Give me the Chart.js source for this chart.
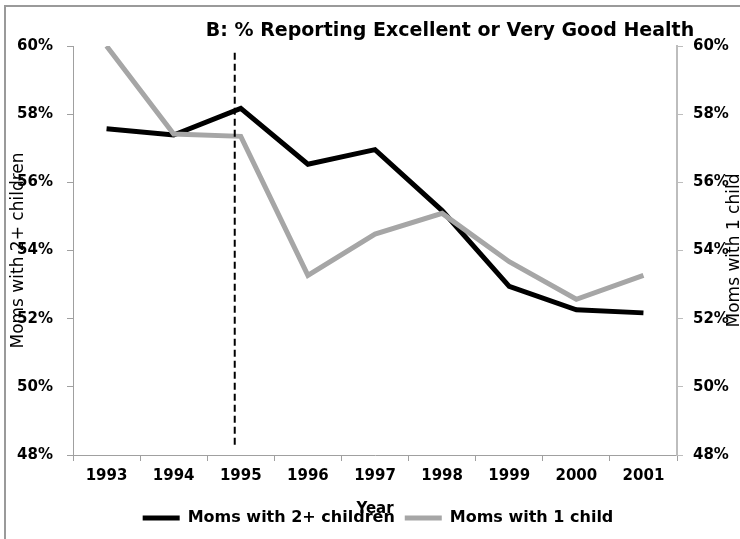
<!DOCTYPE html>
<html>
<head>
<meta charset="utf-8">
<script src="https://cdn.jsdelivr.net/npm/chart.js@4.4.1/dist/chart.umd.min.js"></script>
<style>
  html, body { margin: 0; padding: 0; background: #fff; overflow: hidden; }
  #frame { position: absolute; left: 4px; top: 5px; width: 780px; height: 580px; border: 2px solid #9a9a9a; }
  #wrap { position: absolute; left: 0; top: 0; width: 740px; height: 539px; }
</style>
</head>
<body>
<div id="frame"></div>
<div id="wrap"><canvas id="healthChart"></canvas></div>
<script>
// values (percent)
const years = ['1993', '1994', '1995', '1996', '1997', '1998', '1999', '2000', '2001'];
const momsTwoPlus = [57.57, 57.39, 58.17, 56.53, 56.96, 55.17, 52.95, 52.26, 52.17];
const momsOne = [60.0, 57.42, 57.35, 53.27, 54.48, 55.09, 53.67, 52.57, 53.27];
const yTicks = [48, 50, 52, 54, 56, 58, 60];
const policyYear = '1995';

const FONT = 'DejaVu Sans';

// dashed marker line just before the 1995 point
const policyLine = {
    id: 'policyLine',
    afterDatasetsDraw(chart) {
        const x = chart.scales.x.getPixelForValue(years.indexOf(policyYear) - 0.09);
        const y = chart.scales.y;
        const ctx = chart.ctx;
        ctx.save();
        ctx.strokeStyle = '#000';
        ctx.lineWidth = 2;
        ctx.setLineDash([7, 4]);
        ctx.beginPath();
        ctx.moveTo(x, y.getPixelForValue(59.8));
        ctx.lineTo(x, y.getPixelForValue(48.3));
        ctx.stroke();
        ctx.restore();
    }
};

// title and rotated axis titles, placed the way the original overlaps them
const extraText = {
    id: 'extraText',
    afterDraw(chart) {
        const ctx = chart.ctx;
        const area = chart.chartArea;
        const midY = (area.top + area.bottom) / 2;
        ctx.save();
        ctx.fillStyle = '#000';
        ctx.textAlign = 'center';
        ctx.textBaseline = 'middle';
        ctx.font = 'bold 19px "' + FONT + '"';
        ctx.fillText('B: % Reporting Excellent or Very Good Health', 450, 31);

        ctx.font = '17px "' + FONT + '"';
        ctx.translate(19, midY);
        ctx.rotate(-Math.PI / 2);
        ctx.fillText('Moms with 2+ children', 0, 0);
        ctx.restore();

        ctx.save();
        ctx.fillStyle = '#000';
        ctx.textAlign = 'center';
        ctx.textBaseline = 'middle';
        ctx.font = '17px "' + FONT + '"';
        ctx.translate(735, midY);
        ctx.rotate(-Math.PI / 2);
        ctx.fillText('Moms with 1 child', 0, 0);
        ctx.restore();
    }
};

const tickFont = { family: FONT, size: 15, weight: 'bold' };

const ctx = document.getElementById('healthChart').getContext('2d');
new Chart(ctx, {
    type: 'line',
    data: {
        labels: years,
        datasets: [
            { label: 'Moms with 2+ children', data: momsTwoPlus, borderColor: '#000000', backgroundColor: '#000000',
              borderWidth: 5, pointRadius: 0, tension: 0, yAxisID: 'y', order: 2 },
            { label: 'Moms with 1 child', data: momsOne, borderColor: '#a6a6a6', backgroundColor: '#a6a6a6',
              borderWidth: 5, pointRadius: 0, tension: 0, yAxisID: 'y2', order: 1 }
        ]
    },
    options: {
        responsive: true,
        maintainAspectRatio: false,
        animation: false,
        layout: { padding: { top: 46, left: 16, right: 0, bottom: 3 } },
        plugins: {
            title: { display: false },
            tooltip: { enabled: false },
            legend: {
                position: 'bottom',
                labels: {
                    color: '#000',
                    font: { family: FONT, size: 16, weight: 'bold' },
                    boxWidth: 37,
                    boxHeight: 5,
                    padding: 10,
                    generateLabels(chart) {
                        return chart.data.datasets.map((ds, i) => ({
                            text: ds.label,
                            fillStyle: ds.borderColor,
                            strokeStyle: ds.borderColor,
                            lineWidth: 0,
                            hidden: false,
                            datasetIndex: i
                        }));
                    }
                }
            }
        },
        scales: {
            x: {
                offset: true,
                grid: { offset: true, drawOnChartArea: false, drawTicks: true, tickLength: 6, color: '#a0a0a0' },
                border: { color: '#a0a0a0', width: 1 },
                ticks: { color: '#000', font: tickFont, padding: 6.5, maxRotation: 0 },
                title: { display: true, text: 'Year', color: '#000',
                         font: { family: FONT, size: 15, weight: 'bold' },
                         padding: { top: 8, bottom: -18 } }
            },
            y: {
                position: 'left',
                min: 48, max: 60,
                afterFit(scale) { scale.width = 57; },
                afterBuildTicks(scale) { scale.ticks = yTicks.map(v => ({ value: v })); },
                grid: { drawOnChartArea: false, drawTicks: true, tickLength: 6, color: '#a0a0a0' },
                border: { color: '#a0a0a0', width: 1 },
                ticks: { color: '#000', font: tickFont, padding: 14, callback: v => v + '%' }
            },
            y2: {
                position: 'right',
                min: 48, max: 60,
                afterFit(scale) { scale.width = 63; },
                afterBuildTicks(scale) { scale.ticks = yTicks.map(v => ({ value: v })); },
                grid: { drawOnChartArea: false, drawTicks: true, tickLength: 6, color: '#bdbdbd' },
                border: { color: '#bdbdbd', width: 2 },
                ticks: { color: '#000', font: tickFont, padding: 10, callback: v => v + '%' }
            }
        }
    },
    plugins: [policyLine, extraText]
});
</script>
</body>
</html>
